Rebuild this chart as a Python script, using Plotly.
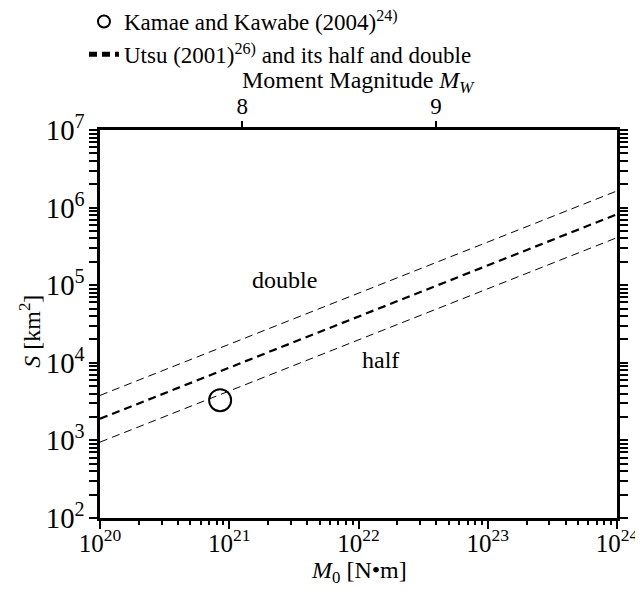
import plotly.graph_objects as go

# Data
m0_line = [1e20, 1e24]                 # seismic moment endpoints [N·m]
s_utsu = [1.9e3, 8.2e5]                # Utsu (2001) S [km^2]
s_half = [0.95e3, 4.1e5]               # half
s_double = [3.8e3, 1.64e6]             # double

m0_kamae = [8.5e20]
s_kamae = [3.3e3]

mw_ticks = [8, 9]
mw_labels = ["8", "9"]

FONT = "Liberation Serif"
FS = 24
DASH = "8px,5px"

fig = go.Figure()

fig.add_trace(go.Scatter(
    x=m0_kamae, y=s_kamae, mode="markers",
    marker=dict(symbol="circle-open", size=22, color="black", line=dict(width=2)),
    name="Kamae and Kawabe (2004)<sup>24)</sup>",
))
fig.add_trace(go.Scatter(
    x=m0_line, y=s_half, mode="lines",
    line=dict(color="black", width=1, dash=DASH),
    name="Utsu (2001)<sup>26)</sup> and its half and double",
))
fig.add_trace(go.Scatter(
    x=m0_line, y=s_utsu, mode="lines",
    line=dict(color="black", width=2.2, dash=DASH), showlegend=False,
))
fig.add_trace(go.Scatter(
    x=m0_line, y=s_double, mode="lines",
    line=dict(color="black", width=1, dash=DASH), showlegend=False,
))
# invisible trace for top (Mw) axis
fig.add_trace(go.Scatter(
    x=m0_line, y=s_utsu, xaxis="x2", mode="lines",
    line=dict(width=0), opacity=0, showlegend=False, hoverinfo="skip",
))

tf = dict(family=FONT, size=FS, color="black")
fig.add_annotation(x=21.43, y=5.07, text="double", showarrow=False, font=tf)
fig.add_annotation(x=22.17, y=4.04, text="half", showarrow=False, font=tf)
# axis titles
fig.add_annotation(xref="paper", yref="paper", x=0, y=0.48, xshift=-70,
                   xanchor="center", yanchor="middle",
                   text="<i>S</i> [km<sup>2</sup>]", textangle=-90, showarrow=False, font=tf)
fig.add_annotation(xref="paper", yref="paper", x=0.5, y=0, yshift=-54,
                   xanchor="center", yanchor="middle",
                   text="<i>M</i><sub>0</sub> [N\u2022m]", showarrow=False, font=tf)
fig.add_annotation(xref="paper", yref="paper", x=0.5, y=1, yshift=48,
                   xanchor="center", yanchor="middle",
                   text="Moment Magnitude <i>M<sub>W</sub></i>", showarrow=False, font=tf)

axis_common = dict(
    showgrid=False, zeroline=False, showline=True, linecolor="black", linewidth=2.5,
    ticks="outside", tickcolor="black", tickwidth=1.5, ticklen=8,
    tickfont=dict(family=FONT, size=23, color="black"),
)

# page has an 8px body margin, so the figure is sized to fit the window
fig.update_layout(
    width=635, height=583,
    margin=dict(l=92, r=26, t=122, b=73, autoexpand=False),
    paper_bgcolor="white", plot_bgcolor="white",
    font=dict(family=FONT, size=FS, color="black"),
    showlegend=True,
    legend=dict(x=-0.031, y=1.335, xanchor="left", yanchor="top",
                bgcolor="rgba(0,0,0,0)", font=dict(family=FONT, size=23, color="black"),
                itemsizing="constant", tracegroupgap=0),
    xaxis=dict(
        type="log", range=[20, 24], dtick=1, exponentformat="power",
        mirror=True, ticklabelstandoff=-6,
        minor=dict(ticks="outside", ticklen=4, tickcolor="black", dtick="D1", showgrid=False),
        **{**axis_common, "tickfont": dict(family=FONT, size=20, color="black")},
    ),
    xaxis2=dict(
        type="log", range=[20, 24], overlaying="x", side="top", anchor="y",
        tickmode="array",
        tickvals=[10 ** (1.5 * m + 9.1) for m in mw_ticks], ticktext=mw_labels,
        ticklabelstandoff=-2,
        **{**axis_common, "ticklen": 6},
    ),
    yaxis=dict(
        type="log", range=[2, 7], dtick=1, exponentformat="power",
        mirror="allticks",
        minor=dict(ticks="outside", ticklen=4, tickcolor="black", dtick="D1", showgrid=False),
        **axis_common,
    ),
)

fig.write_html("out.html")
